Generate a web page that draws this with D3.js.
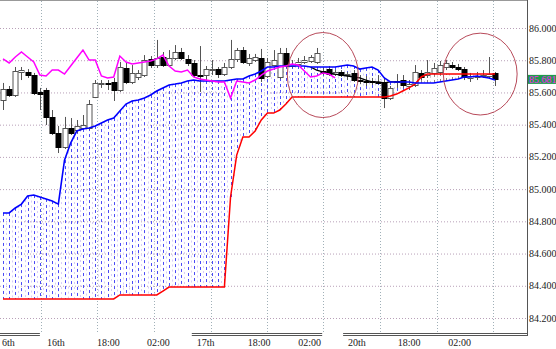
<!DOCTYPE html>
<html>
<head>
<meta charset="utf-8">
<script src="https://cdn.jsdelivr.net/npm/d3@7"></script>
<style>
  body { margin: 0; background: #fff; }
  svg { display: block; }
  text { font-family: "Liberation Serif", "DejaVu Serif", serif; font-size: 10px; fill: #222; }
</style>
</head>
<body>
<div id="vis"></div>
<script>
const FRAME_WIDTH = 556;
const FRAME_HEIGHT = 349;
const PLOT = {left: 0, right: 527, top: 1, bottom: 333};

// candles: [open, high, low, close]
const opens = [85.553,85.621,85.584,85.727,85.727,85.708,85.603,85.615,85.448,85.348,
  85.261,85.379,85.367,85.379,85.379,85.572,85.652,85.659,85.665,85.615,
  85.752,85.665,85.696,85.708,85.808,85.770,85.820,85.770,85.814,85.851,
  85.808,85.783,85.708,85.708,85.739,85.745,85.714,85.758,85.808,85.863,
  85.783,85.801,85.814,85.702,85.770,85.696,85.845,85.764,85.777,85.789,
  85.795,85.789,85.733,85.745,85.714,85.727,85.708,85.721,85.677,85.671,
  85.671,85.665,85.665,85.565,85.665,85.677,85.640,85.646,85.721,85.708,
  85.721,85.727,85.758,85.770,85.758,85.745,85.690,85.696,85.702,85.702,
  85.721];
const highs = [85.659,85.640,85.758,85.758,85.745,85.721,85.628,85.628,85.491,85.392,
  85.448,85.441,85.429,85.460,85.553,85.677,85.677,85.677,85.690,85.789,
  85.789,85.770,85.739,85.832,85.826,85.926,85.851,85.863,85.894,85.876,
  85.832,85.801,85.888,85.764,85.801,85.758,85.783,85.926,85.876,85.882,
  85.839,85.839,85.870,85.814,85.863,85.876,85.876,85.801,85.814,85.826,
  85.832,85.876,85.752,85.764,85.739,85.739,85.727,85.739,85.708,85.702,
  85.690,85.708,85.690,85.640,85.714,85.708,85.677,85.770,85.739,85.801,
  85.783,85.795,85.801,85.789,85.777,85.758,85.721,85.727,85.739,85.820,
  85.727];
const lows = [85.491,85.572,85.572,85.677,85.690,85.584,85.491,85.398,85.336,85.224,
  85.249,85.336,85.348,85.367,85.367,85.565,85.628,85.615,85.547,85.603,
  85.652,85.652,85.677,85.696,85.752,85.752,85.758,85.758,85.801,85.801,
  85.764,85.690,85.603,85.677,85.708,85.690,85.702,85.745,85.789,85.777,
  85.764,85.789,85.665,85.690,85.764,85.683,85.752,85.752,85.764,85.777,
  85.783,85.777,85.708,85.702,85.702,85.696,85.677,85.665,85.652,85.640,
  85.646,85.652,85.503,85.553,85.628,85.628,85.615,85.634,85.677,85.690,
  85.708,85.714,85.739,85.745,85.733,85.677,85.665,85.677,85.690,85.690,
  85.640];
const closes = [85.621,85.584,85.733,85.739,85.708,85.597,85.590,85.448,85.348,85.261,
  85.379,85.348,85.392,85.398,85.528,85.659,85.659,85.652,85.615,85.758,
  85.665,85.721,85.721,85.801,85.770,85.814,85.770,85.814,85.851,85.814,
  85.783,85.708,85.702,85.745,85.745,85.714,85.758,85.808,85.863,85.789,
  85.814,85.820,85.690,85.789,85.801,85.845,85.764,85.777,85.789,85.801,
  85.820,85.845,85.721,85.714,85.727,85.708,85.714,85.677,85.674,85.668,
  85.665,85.662,85.565,85.628,85.671,85.646,85.652,85.727,85.696,85.727,
  85.752,85.770,85.783,85.758,85.745,85.696,85.702,85.702,85.708,85.714,
  85.681];

// indicator lines, one value per bar
const spanA = [84.852,84.852,84.883,84.907,84.957,84.963,84.951,84.939,84.926,84.907,
  85.180,85.286,85.361,85.373,85.379,85.392,85.410,85.429,85.441,85.485,
  85.528,85.547,85.553,85.565,85.584,85.609,85.628,85.646,85.652,85.659,
  85.671,85.677,85.671,85.671,85.671,85.671,85.671,85.677,85.683,85.683,
  85.702,85.714,85.733,85.758,85.758,85.764,85.764,85.764,85.764,85.764,
  85.758,85.758,85.758,85.758,85.758,85.764,85.770,85.764,85.745,85.752,
  85.758,85.739,85.690,85.665,85.665,85.665,85.665,85.659,85.659,85.659,
  85.659,85.665,85.671,85.677,85.683,85.696,85.696,85.702,85.696,85.690,
  85.677];
const spanB = [84.318,84.318,84.318,84.318,84.318,84.318,84.318,84.318,84.318,84.318,
  84.318,84.318,84.318,84.318,84.318,84.318,84.318,84.318,84.318,84.343,
  84.343,84.343,84.343,84.343,84.343,84.343,84.367,84.392,84.392,84.392,
  84.392,84.392,84.392,84.392,84.392,84.392,84.392,84.951,85.211,85.323,
  85.323,85.361,85.429,85.472,85.472,85.491,85.528,85.572,85.572,85.572,
  85.572,85.572,85.572,85.572,85.572,85.572,85.572,85.572,85.572,85.572,
  85.572,85.572,85.572,85.578,85.590,85.609,85.628,85.652,85.696,85.714,
  85.714,85.714,85.714,85.714,85.714,85.714,85.714,85.714,85.714,85.714,
  85.714];
// lagging line, bars 0..54
const chikou = [85.808,85.783,85.820,85.851,85.820,85.789,85.708,85.702,85.739,85.739,
  85.714,85.764,85.814,85.863,85.801,85.801,85.702,85.690,85.696,85.826,
  85.789,85.777,85.783,85.789,85.795,85.808,85.832,85.764,85.733,85.727,
  85.739,85.696,85.683,85.677,85.671,85.665,85.665,85.565,85.671,85.665,
  85.659,85.677,85.708,85.733,85.745,85.758,85.764,85.777,85.770,85.733,
  85.696,85.702,85.721,85.714,85.690];
// short black line, bars 50..65
const baseStart = 50;
const baseLine = [85.758,85.739,85.727,85.721,85.714,85.708,85.702,85.696,85.690,85.677,
  85.665,85.665,85.659,85.665,85.665,85.665];

const yTicks = [84.2, 84.4, 84.6, 84.8, 85.0, 85.2, 85.4, 85.6, 85.8, 86.0];
const gridIdx = [6.2, 15.3, 24.55, 33.8, 42.9, 52.0, 61.3, 70.55, 79.65];
const timeLabels = ["6th", "16th", "18:00", "02:00", "17th", "18:00", "02:00", "20th", "18:00", "02:00"];
const timeIdx = [-0.16, 7.15, 15.3, 23.4, 31.5, 39.8, 48.0, 56.1, 64.2, 72.4];
const daySegs = [[-0.5, 6.0], [30.7, 51.9], [55.3, 85.2]];
// circled areas: [bar index, price, radius in bars, radius in price]
const marks = [[52.0, 85.708, 5.77, 0.264], [77.6, 85.714, 6.0, 0.254]];
const lastPrice = 85.681;

const X = d3.scaleLinear().domain([0, opens.length - 1]).range([3, 495]);
const Y = d3.scaleLinear().domain([84.2, 86.0]).range([318, 28]);

const svg = d3.select("#vis").append("svg")
  .attr("width", FRAME_WIDTH)
  .attr("height", FRAME_HEIGHT);

svg.append("clipPath").attr("id", "plot")
  .append("rect")
  .attr("x", PLOT.left).attr("y", PLOT.top)
  .attr("width", PLOT.right - PLOT.left).attr("height", PLOT.bottom - PLOT.top);

const g = svg.append("g").attr("clip-path", "url(#plot)");

// grid
g.selectAll(".hgrid").data(yTicks).enter().append("line")
  .attr("x1", PLOT.left).attr("x2", PLOT.right)
  .attr("y1", d => Y(d) + 0.5).attr("y2", d => Y(d) + 0.5)
  .attr("stroke", "#b8a0b8").attr("stroke-dasharray", "1,2");
g.selectAll(".vgrid").data(gridIdx).enter().append("line")
  .attr("x1", d => Math.round(X(d)) + 0.5).attr("x2", d => Math.round(X(d)) + 0.5)
  .attr("y1", PLOT.top).attr("y2", PLOT.bottom)
  .attr("stroke", "#a0b0b8").attr("stroke-dasharray", "1,2");

// cloud hatching
const idx = d3.range(opens.length);
g.selectAll(".cloud2").data(idx.slice(0, -1)).enter().append("line")
  .attr("x1", d => Math.round(X(d + 0.5)) + 0.5).attr("x2", d => Math.round(X(d + 0.5)) + 0.5)
  .attr("y1", d => Y((spanA[d] + spanA[d + 1]) / 2)).attr("y2", d => Y((spanB[d] + spanB[d + 1]) / 2))
  .attr("stroke", d => spanA[d] >= spanB[d] ? "#d6cbfa" : "#d0c8c8")
  .attr("stroke-dasharray", "2,3");
g.selectAll(".cloud").data(idx).enter().append("line")
  .attr("x1", d => Math.round(X(d)) + 0.5).attr("x2", d => Math.round(X(d)) + 0.5)
  .attr("y1", d => Y(spanA[d])).attr("y2", d => Y(spanB[d]))
  .attr("stroke", d => spanA[d] >= spanB[d] ? "#4a4af6" : "#8a7f80")
  .attr("stroke-dasharray", "3,3");

// candles
const bars = g.selectAll(".bar").data(idx).enter().append("g");
bars.append("line")
  .attr("x1", d => Math.round(X(d)) + 0.5).attr("x2", d => Math.round(X(d)) + 0.5)
  .attr("y1", d => Y(highs[d])).attr("y2", d => Y(lows[d]))
  .attr("stroke", "#555");
bars.append("rect")
  .attr("x", d => Math.round(X(d)) - 2)
  .attr("y", d => Math.round(Y(Math.max(opens[d], closes[d]))) + 0.5)
  .attr("width", 5)
  .attr("height", d => Math.max(1, Math.round(Math.abs(Y(opens[d]) - Y(closes[d])))))
  .attr("fill", d => closes[d] >= opens[d] ? "#fff" : "#000")
  .attr("stroke", d => closes[d] >= opens[d] ? "#555" : "#000");

// lines
const line = d3.line().x(d => X(d[0])).y(d => Y(d[1]));
g.append("path").datum(spanB.map((v, i) => [i, v]))
  .attr("d", line).attr("fill", "none").attr("stroke", "#ff0000").attr("stroke-width", 1.5);
g.append("path").datum(baseLine.map((v, i) => [i + baseStart, v]))
  .attr("d", line).attr("fill", "none").attr("stroke", "#000").attr("stroke-width", 1.3);
g.append("path").datum(spanA.map((v, i) => [i, v]))
  .attr("d", line).attr("fill", "none").attr("stroke", "#0000ff").attr("stroke-width", 1.6);
g.append("path").datum(chikou.map((v, i) => [i, v]))
  .attr("d", line).attr("fill", "none").attr("stroke", "#ff00ff").attr("stroke-width", 1.5);

// circled areas
g.selectAll(".mark").data(marks).enter().append("ellipse")
  .attr("cx", d => X(d[0])).attr("cy", d => Y(d[1]))
  .attr("rx", d => X(d[2]) - X(0)).attr("ry", d => Y(0) - Y(d[3]))
  .attr("fill", "none").attr("stroke", "#b84a5a").attr("stroke-width", 1);

// frame
svg.append("line").attr("x1", PLOT.right + 0.5).attr("x2", PLOT.right + 0.5)
  .attr("y1", 0).attr("y2", PLOT.bottom + 3).attr("stroke", "#555");
svg.append("line").attr("x1", 0).attr("x2", PLOT.right)
  .attr("y1", 0.5).attr("y2", 0.5).attr("stroke", "#999");
daySegs.forEach(s => {
  [PLOT.bottom + 0.5, PLOT.bottom + 2.5].forEach(yy => {
    svg.append("line")
      .attr("x1", Math.max(0, X(s[0]))).attr("x2", Math.min(PLOT.right + 1, X(s[1])))
      .attr("y1", yy).attr("y2", yy).attr("stroke", "#555");
  });
});

// price axis
svg.selectAll(".ylab").data(yTicks).enter().append("text")
  .attr("x", PLOT.right + 2).attr("y", d => Y(d) + 3.5)
  .text(d => d3.format(".3f")(d));

// time axis
svg.selectAll(".xlab").data(timeLabels).enter().append("text")
  .attr("x", (d, i) => X(timeIdx[i])).attr("y", 346)
  .text(d => d);

// last price tag
svg.append("rect")
  .attr("x", PLOT.right + 1).attr("y", Y(lastPrice) - 4.5)
  .attr("width", 28).attr("height", 9)
  .attr("fill", "#1f9a4a");
svg.append("text")
  .attr("x", PLOT.right + 2).attr("y", Y(lastPrice) + 3.5)
  .style("fill", "#ff22ff")
  .text(d3.format(".3f")(lastPrice));
</script>
</body>
</html>
